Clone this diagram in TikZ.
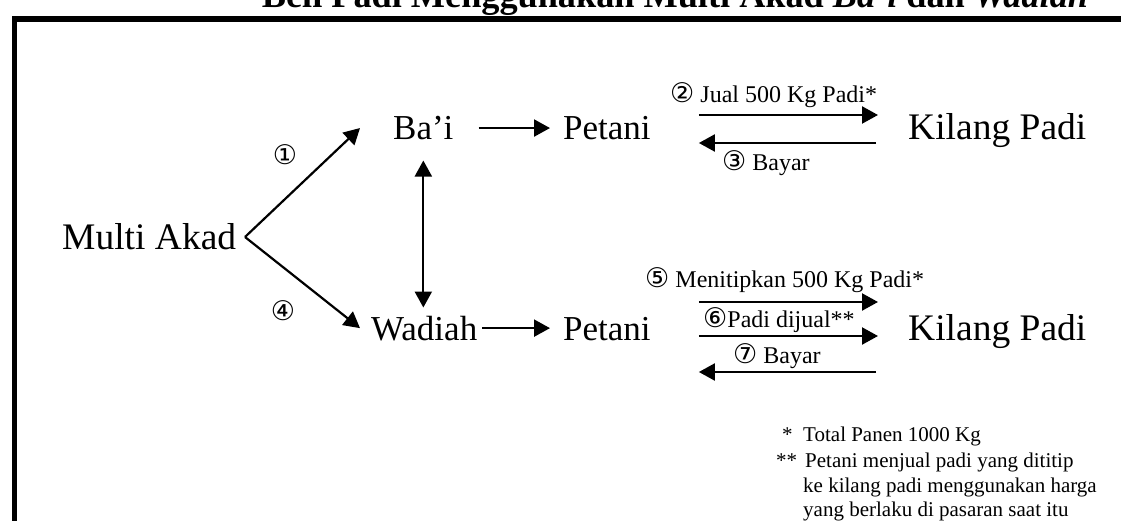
\documentclass[tikz,border=0pt]{standalone}
\usepackage{graphicx}
\usepackage{fontspec}
\setmainfont{Liberation Serif}
\newfontfamily\circfont{DejaVu Sans}
\usetikzlibrary{arrows.meta}
\newcommand\cnum[2][27]{{\circfont\fontsize{#1}{#1}\selectfont #2}}
\begin{document}
\begin{tikzpicture}[x=1pt,y=-1pt,
  big/.style={font=\fontsize{35}{40}\selectfont, inner sep=0pt, anchor=base west},
  bigger/.style={font=\fontsize{37.5}{42}\selectfont, inner sep=0pt, anchor=base west},
  lab/.style={font=\fontsize{24}{28}\selectfont, inner sep=0pt, anchor=base west},
  note/.style={font=\fontsize{21}{25}\selectfont, inner sep=0pt, anchor=base west},
  num/.style={inner sep=0pt, anchor=center},
  arr/.style={line width=2.2pt, -{Triangle[length=16pt,width=17pt]}},
  darr/.style={line width=2.2pt, {Triangle[length=16pt,width=17pt]}-{Triangle[length=16pt,width=17pt]}},
  frame/.style={line width=5.2pt}]
\useasboundingbox (0,0) rectangle (1121,521);
\draw[frame] (14.4,700) -- (14.4,19) -- (1300,19);
\node[anchor=base, inner sep=0pt] (title) at (675,8) {\resizebox{826pt}{!}{\bfseries Beli Padi Menggunakan Multi Akad \textit{Ba'i} dan \textit{Wadiah}}};
% main nodes
\node[bigger] (multi) at (62,249.4) {Multi Akad};
\coordinate (v) at (245,237);
\node[big] (bai) at (393,139.5) {Ba'i};
\node[big] (wad) at (371,340) {Wadiah};
\node[big] (pet1) at (563,139.5) {Petani};
\node[big] (pet2) at (563,340) {Petani};
\node[bigger] (kil1) at (908,139.5) {Kilang Padi};
\node[bigger] (kil2) at (908,340) {Kilang Padi};
% connectors
\draw[arr] (v) -- ([xshift=-33pt]bai.west);
\draw[arr] (v) -- ([xshift=-11pt]wad.west);
\draw[arr, shorten <=25pt, shorten >=13pt] (bai.east) -- (bai.east -| pet1.west);
\draw[arr, shorten <=5pt, shorten >=13pt] (wad.east) -- (wad.east -| pet2.west);
\draw[darr, shorten <=20.5pt, shorten >=8pt] (bai.south) -- (bai.south |- wad.north);
\draw[arr, shorten <=48pt, shorten >=30pt] (pet1.east |- 0,115) -- (kil1.west |- 0,115);
\draw[arr, shorten <=32pt, shorten >=48pt] (kil1.west |- 0,143) -- (pet1.east |- 0,143);
\draw[arr, shorten <=48pt, shorten >=30pt] (pet2.east |- 0,302) -- (kil2.west |- 0,302);
\draw[arr, shorten <=48pt, shorten >=30pt] (pet2.east |- 0,336) -- (kil2.west |- 0,336);
\draw[arr, shorten <=32pt, shorten >=48pt] (kil2.west |- 0,372) -- (pet2.east |- 0,372);
% labels
\node[num] (n1) at (285,155) {\cnum{①}};
\node[num] (n4) at (283,311) {\cnum{④}};
\node[lab] (l2) at (670,102.5) {\cnum{②} Jual 500 Kg Padi*};
\node[lab] (l3) at (722,171) {\cnum{③} Bayar};
\node[lab] (l5) at (645,287.5) {\cnum{⑤} Menitipkan 500 Kg Padi*};
\node[lab] (l6) at (703,327.5) {\cnum{⑥}Padi dijual**};
\node[lab] (l7) at (733,363.5) {\cnum{⑦} Bayar};
% footnotes
\node[note] (f1a) at (782,441) {*};
\node[note] (f1b) at (803,441) {Total Panen 1000 Kg};
\node[note] (f2a) at (776,467) {**};
\node[note] (f2b) at (805,467) {Petani menjual padi yang dititip};
\node[note] (f2c) at (803,492) {ke kilang padi menggunakan harga};
\node[note] (f2d) at (803,516.5) {yang berlaku di pasaran saat itu};
\end{tikzpicture}
\end{document}
